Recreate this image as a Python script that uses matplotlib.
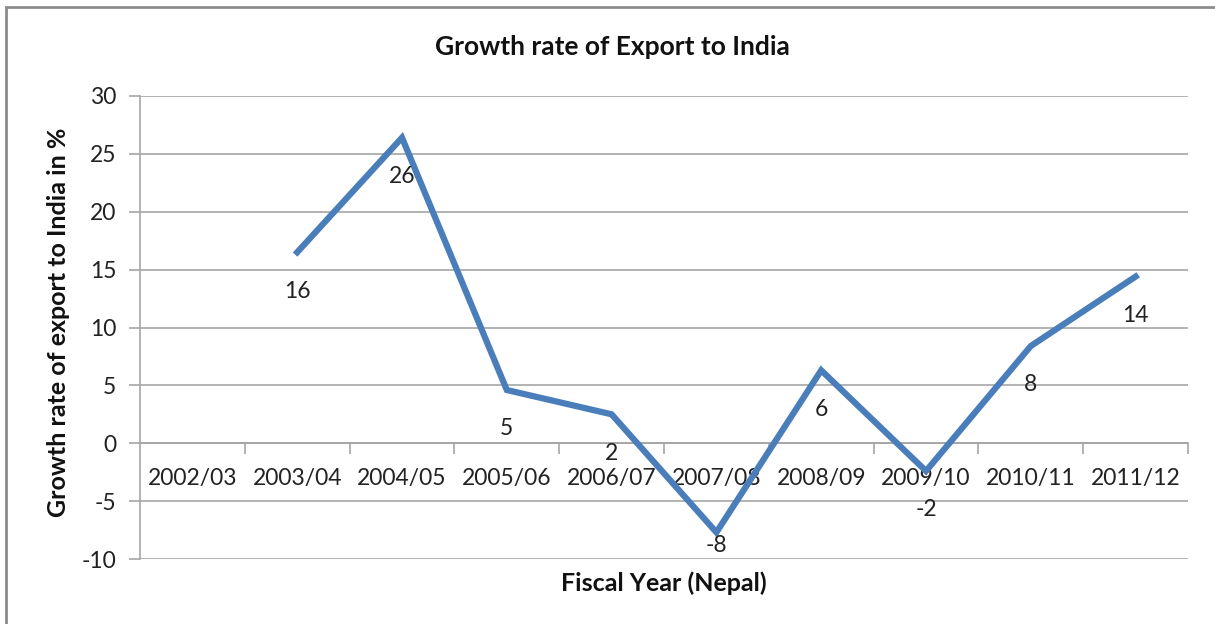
import matplotlib.pyplot as plt
from matplotlib.patches import Rectangle

# fiscal years and growth rate of export to India (%)
years = ['2002/03', '2003/04', '2004/05', '2005/06', '2006/07',
         '2007/08', '2008/09', '2009/10', '2010/11', '2011/12']
growth = [None, 16.5, 26.4, 4.6, 2.5, -7.7, 6.3, -2.4, 8.4, 14.4]
labels = ['', '16', '26', '5', '2', '-8', '6', '-2', '8', '14']

plt.rcParams['font.family'] = ['Lato', 'DejaVu Sans']
plt.rcParams['axes.unicode_minus'] = False

fig = plt.figure(figsize=(12.15, 6.24), dpi=100)
ax = fig.add_axes([140/1215, 1-559/624, (1188-140)/1215, (559-96)/624])

# outer chart frame
fig.patches.append(Rectangle((6/1215, -0.1), 1.2, 1-7/624+0.1, transform=fig.transFigure,
                             fill=False, edgecolor='#8c8c8c', linewidth=2))

xs = [i for i, v in enumerate(growth) if v is not None]
ys = [v for v in growth if v is not None]
ax.plot(xs, ys, color='#4a7ebb', linewidth=4.5, solid_joinstyle='miter', zorder=3)

ymin, ymax = -10, 30
for i, v in enumerate(growth):
    if v is None:
        continue
    # label below the point, kept inside the plot area like Excel does
    ly = max(v - 3.35, ymin + 1.2)
    ax.text(i, ly, labels[i], ha='center', va='center', fontsize=16.5, color='#222222')

ax.set_xlim(-0.5, 9.5)
ax.set_ylim(ymin, ymax)
ax.set_yticks(range(ymin, ymax + 1, 5))
ax.grid(axis='y', color='#a6a6a6', linewidth=1.2)
ax.set_axisbelow(True)

ax.set_xticks(range(len(years)))
ax.set_xticklabels(years)
ax.set_xticks([i + 0.5 for i in range(len(years))], minor=True)
ax.tick_params(axis='x', which='major', length=0, pad=18, labelsize=16.5, labelcolor='#222222')
ax.tick_params(axis='x', which='minor', length=8, width=1.2, color='#a6a6a6', direction='out')
ax.tick_params(axis='y', length=8, width=1.2, color='#a6a6a6', labelsize=16.5, labelcolor='#222222', pad=9)

for s in ['top', 'right']:
    ax.spines[s].set_visible(False)
ax.spines['bottom'].set_position(('data', 0))
ax.spines['bottom'].set_color('#a6a6a6')
ax.spines['bottom'].set_linewidth(1.2)
ax.spines['left'].set_color('#a6a6a6')
ax.spines['left'].set_linewidth(1.2)

fig.text(612/1215, 1-47/624, 'Growth rate of Export to India', ha='center', va='center',
         fontsize=19, fontweight='bold', color='#111111')
fig.text(664/1215, 1-583/624, 'Fiscal Year (Nepal)', ha='center', va='center',
         fontsize=18, fontweight='bold', color='#111111')
fig.text(58/1215, 1-322/624, 'Growth rate of export to India in %', ha='center', va='center',
         rotation=90, fontsize=18, fontweight='bold', color='#111111')

fig.savefig('out.png', dpi=100)
